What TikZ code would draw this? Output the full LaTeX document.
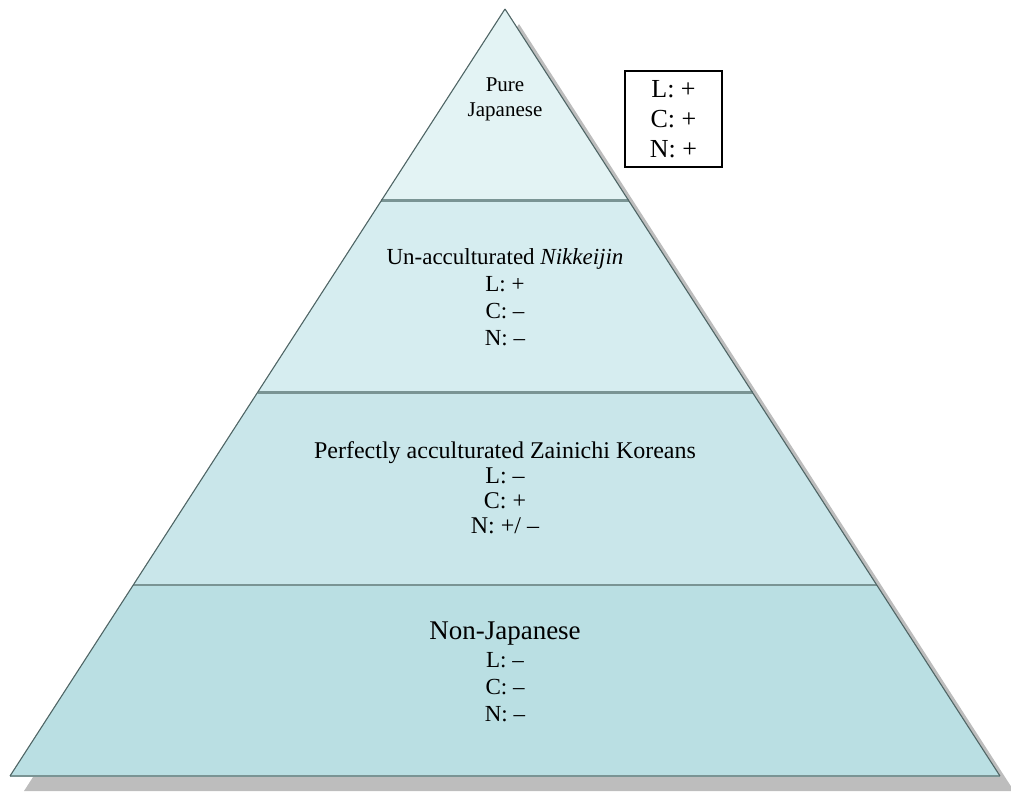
\documentclass[tikz,border=0pt]{standalone}
\usepackage{fontspec}
\setmainfont{Liberation Serif}
\usetikzlibrary{calc}
\definecolor{layA}{HTML}{E3F3F4}
\definecolor{layB}{HTML}{D6EDF0}
\definecolor{layC}{HTML}{C9E6EA}
\definecolor{layD}{HTML}{BADFE3}
\definecolor{edgecol}{HTML}{4F6565}
\definecolor{divcol}{HTML}{7A9494}
\definecolor{shadowcol}{HTML}{BDBDBD}
\tikzset{
  layertext/.style={align=center, inner sep=0pt, font=\fontsize{23}{27}\selectfont},
  divider/.style={draw=divcol, line width=2.6pt},
  outline/.style={draw=edgecol, line width=1.1pt, line join=miter},
  keybox/.style={draw=black, line width=2pt, minimum width=97pt, minimum height=96pt, inner sep=0pt, align=center, font=\fontsize{26}{30}\selectfont}
}
\begin{document}
\begin{tikzpicture}[x=1pt,y=-1pt]
\useasboundingbox (0,0) rectangle (1011,793);
\clip (0,0) rectangle (1011,793);
\coordinate (A) at (505,9);
\coordinate (BL) at (10,776);
\coordinate (BR) at (1000,776);
% shadow
\fill[shadowcol] ($(A)+(14,15)$) -- ($(BL)+(14,15)$) -- ($(BR)+(14,15)$) -- cycle;
% edge points
\coordinate (L1) at ($(A)!0.25!(BL)$);
\coordinate (R1) at ($(A)!0.25!(BR)$);
\coordinate (L2) at ($(A)!0.5!(BL)$);
\coordinate (R2) at ($(A)!0.5!(BR)$);
\coordinate (L3) at ($(A)!0.751!(BL)$);
\coordinate (R3) at ($(A)!0.751!(BR)$);
% layers
\fill[layA] (A) -- (L1) -- (R1) -- cycle;
\fill[layB] (L1) -- (L2) -- (R2) -- (R1) -- cycle;
\fill[layC] (L2) -- (L3) -- (R3) -- (R2) -- cycle;
\fill[layD] (L3) -- (BL) -- (BR) -- (R3) -- cycle;
\draw[divider] (L1) -- (R1);
\draw[divider] (L2) -- (R2);
\draw[divider] (L3) -- (R3);
\draw[divider] (BL) -- (BR);
\draw[outline] (A) -- (BL);
\draw[outline] (A) -- (BR);
% texts
\node[layertext, font=\fontsize{21}{25}\selectfont] (t1) at (505,99) {Pure\\Japanese};
\node[layertext] (t2) at (505,297) {Un-acculturated \textit{Nikkeijin}\\L: +\\C: –\\N: –};
\node[layertext, font=\fontsize{24}{25}\selectfont] (t3) at (505,488) {Perfectly acculturated Zainichi Koreans\\L: –\\C: +\\N: +/ –};
\node[layertext] (t4) at (505,672) {{\fontsize{27}{29}\selectfont Non-Japanese}\\[1pt]L: –\\C: –\\N: –};
\node[keybox] (key) at (673.5,119) {L: +\\C: +\\N: +};
\end{tikzpicture}
\end{document}
